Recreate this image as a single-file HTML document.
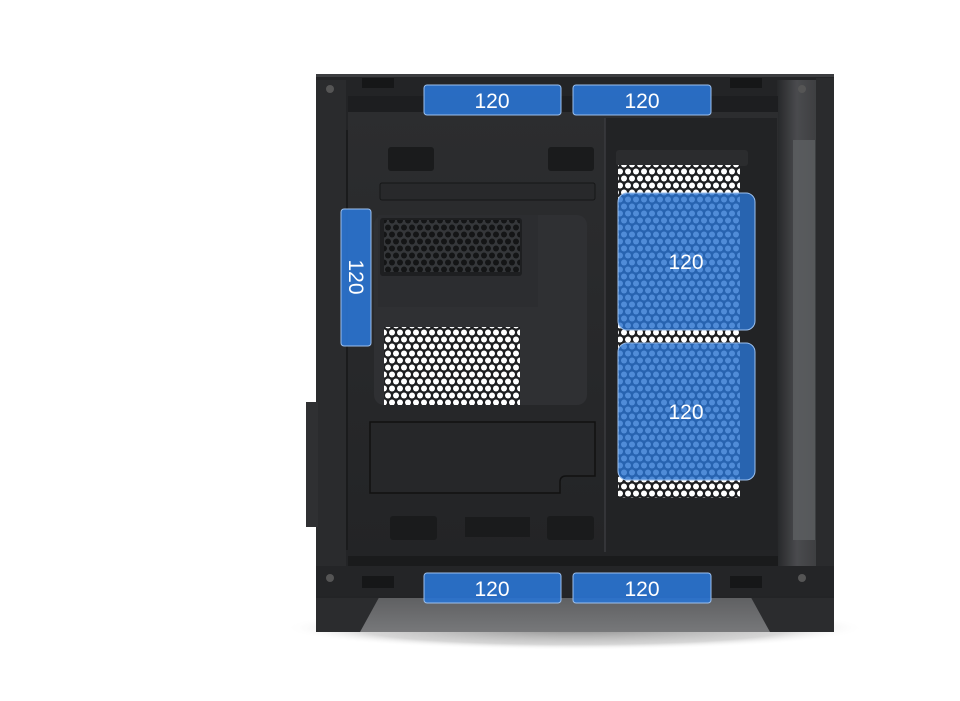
<!DOCTYPE html>
<html><head><meta charset="utf-8"><style>
html,body{margin:0;padding:0;background:#fff;width:960px;height:701px;overflow:hidden}
svg{display:block}
text{font-family:"Liberation Sans",sans-serif;fill:#fff;font-size:21px;text-anchor:middle}
</style></head><body>
<svg width="960" height="701" viewBox="0 0 960 701" xmlns="http://www.w3.org/2000/svg">
<defs>
<pattern id="hexW" width="8" height="14" patternUnits="userSpaceOnUse">
<rect width="8" height="14" fill="#1e1f21"/>
<circle cx="4" cy="3.5" r="3" fill="#fff"/><circle cx="0" cy="10.5" r="3" fill="#fff"/><circle cx="8" cy="10.5" r="3" fill="#fff"/>
</pattern>
<pattern id="hexD" width="8" height="14" patternUnits="userSpaceOnUse">
<rect width="8" height="14" fill="#35373a"/>
<circle cx="4" cy="3.5" r="3" fill="#141516"/><circle cx="0" cy="10.5" r="3" fill="#141516"/><circle cx="8" cy="10.5" r="3" fill="#141516"/>
</pattern>
<linearGradient id="glass" x1="0" x2="1"><stop offset="0" stop-color="#262729"/><stop offset="0.35" stop-color="#4a4b4e"/><stop offset="1" stop-color="#333436"/></linearGradient>
<linearGradient id="inner" x1="0" y1="0" x2="0" y2="1"><stop offset="0" stop-color="#2c2d2f"/><stop offset="1" stop-color="#232426"/></linearGradient>
<linearGradient id="floor" x1="0" y1="0" x2="0" y2="1"><stop offset="0" stop-color="#5e5f61"/><stop offset="1" stop-color="#77787a"/></linearGradient>
<radialGradient id="shadow" cx="0.5" cy="0.5" r="0.5"><stop offset="0" stop-color="#888"/><stop offset="0.75" stop-color="#bbb" stop-opacity="0.6"/><stop offset="1" stop-color="#fff" stop-opacity="0"/></radialGradient>
</defs>
<!-- shadow -->
<ellipse cx="575" cy="628" rx="290" ry="22" fill="url(#shadow)"/>
<rect x="350" y="596" width="430" height="36" fill="url(#floor)"/>
<!-- feet -->
<path d="M316 592 L382 592 L360 632 L316 632 Z" fill="#2b2c2e"/>
<path d="M834 592 L748 592 L770 632 L834 632 Z" fill="#2b2c2e"/>
<!-- outer body -->
<rect x="316" y="74" width="518" height="524" fill="#232426"/>
<rect x="316" y="74" width="518" height="3" fill="#3c3d40"/>
<!-- glass right -->
<rect x="777" y="80" width="57" height="510" fill="url(#glass)"/>
<rect x="793" y="140" width="22" height="400" fill="#5d5f62" opacity="0.8"/>
<rect x="816" y="78" width="18" height="510" fill="#2a2b2d"/>
<!-- left frame -->
<rect x="316" y="80" width="30" height="510" fill="#2a2b2d"/>
<rect x="306" y="402" width="12" height="125" fill="#2f3032"/>
<rect x="346" y="130" width="6" height="420" fill="#1a1b1c"/>
<!-- interior -->
<rect x="348" y="112" width="430" height="445" fill="url(#inner)"/>
<rect x="348" y="96" width="430" height="16" fill="#1d1e20"/>
<rect x="605" y="118" width="172" height="432" fill="#222325"/>
<line x1="605" y1="118" x2="605" y2="552" stroke="#3a3b3e" stroke-width="1.5"/>
<!-- top cutouts -->
<rect x="388" y="147" width="46" height="24" rx="3" fill="#1a1b1c"/>
<rect x="548" y="147" width="46" height="24" rx="3" fill="#1a1b1c"/>
<rect x="380" y="183" width="215" height="17" rx="2" fill="#28292b" stroke="#151617"/>
<!-- mobo tray -->
<rect x="374" y="215" width="213" height="190" rx="10" fill="#2f3033"/>
<rect x="378" y="215" width="160" height="92" fill="#2c2d30"/>
<rect x="380" y="218" width="142" height="58" rx="3" fill="#1e1f21"/>
<rect x="384" y="220" width="136" height="52" fill="url(#hexD)"/>
<rect x="384" y="327" width="136" height="78" fill="url(#hexW)"/>
<!-- psu shroud -->
<path d="M370 422 H595 V476 H566 Q560 476 560 482 V493 H370 Z" fill="#262729" stroke="#111" stroke-width="1.5"/>
<!-- bottom cutouts -->
<rect x="390" y="516" width="47" height="24" rx="3" fill="#1a1b1c"/>
<rect x="465" y="517" width="65" height="20" fill="#1a1b1c"/>
<rect x="547" y="516" width="47" height="24" rx="3" fill="#1a1b1c"/>
<!-- right chamber mesh -->
<rect x="616" y="150" width="132" height="16" rx="3" fill="#2b2c2e"/>
<rect x="618" y="165" width="122" height="333" fill="url(#hexW)"/>
<!-- bottom frame -->
<rect x="348" y="556" width="430" height="14" fill="#1a1b1c"/>
<rect x="316" y="566" width="518" height="30" fill="#242527"/>
<rect x="362" y="576" width="32" height="12" fill="#161718"/>
<rect x="730" y="576" width="32" height="12" fill="#161718"/>
<rect x="362" y="78" width="32" height="10" fill="#161718"/>
<rect x="730" y="78" width="32" height="10" fill="#161718"/>
<circle cx="330" cy="89" r="4" fill="#555"/><circle cx="802" cy="89" r="4" fill="#555"/>
<circle cx="330" cy="578" r="4" fill="#555"/><circle cx="802" cy="578" r="4" fill="#555"/>
<!-- fan boxes -->
<g fill="#2a73cf" fill-opacity="0.92" stroke="#9cc0ee" stroke-width="1">
<rect x="424" y="85" width="137" height="30" rx="3"/>
<rect x="573" y="85" width="138" height="30" rx="3"/>
<rect x="424" y="573" width="137" height="30" rx="3"/>
<rect x="573" y="573" width="138" height="30" rx="3"/>
<rect x="341" y="209" width="30" height="137" rx="3"/>
</g>
<g fill="#2a73cf" fill-opacity="0.82" stroke="#9cc0ee" stroke-width="1">
<rect x="618" y="193" width="137" height="137" rx="9"/>
<rect x="618" y="343" width="137" height="137" rx="9"/>
</g>
<text x="492" y="108">120</text>
<text x="642" y="108">120</text>
<text x="492" y="596">120</text>
<text x="642" y="596">120</text>
<text x="686" y="269">120</text>
<text x="686" y="419">120</text>
<text transform="translate(349,277) rotate(90)" x="0" y="0">120</text>
</svg>
</body></html>
